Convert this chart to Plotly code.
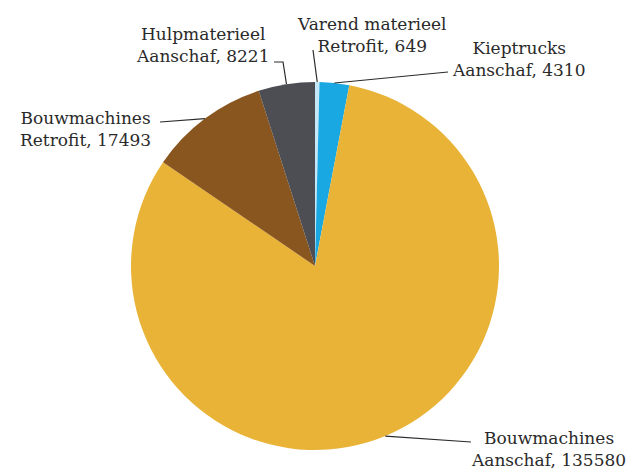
import math
import plotly.graph_objects as go

# slices, clockwise from 12 o'clock
labels = ['Varend materieel<br>Retrofit', 'Kieptrucks<br>Aanschaf', 'Bouwmachines<br>Aanschaf',
          'Bouwmachines<br>Retrofit', 'Hulpmaterieel<br>Aanschaf']
values = [649, 4310, 135580, 17493, 8221]
colors = ['#c4e8f8', '#1aa8e2', '#e9b337', '#8a561f', '#4c4e54']

W, H = 635, 470
OFF = 8                     # page body margin pushes the plot 8px right/down
CX, CY, R = 315, 266, 184   # pie centre / radius in pixels

# label placement (pixels): text centre and leader elbow points
label_pos = [
    dict(tx=372, ty=35, elbow=[(313, 50)]),
    dict(tx=519, ty=59, elbow=[(448, 72)]),
    dict(tx=548, ty=449, elbow=[(471, 442)]),
    dict(tx=85, ty=129, elbow=[(160, 122)]),
    dict(tx=202, ty=45, elbow=[(283, 62), (274, 62)]),
]


def px(x, y):
    return (x - OFF) / W, 1 - (y - OFF) / H


x0, y1 = px(CX - R, CY - R)
x1, y0 = px(CX + R, CY + R)

fig = go.Figure(go.Pie(
    labels=labels,
    values=values,
    sort=False,
    direction='clockwise',
    rotation=0,
    marker=dict(colors=colors, line=dict(color='white', width=0)),
    textinfo='none',
    hoverinfo='label+value',
    domain=dict(x=[x0, x1], y=[y0, y1]),
))

total = sum(values)
cum = 0
for lab, val, pos in zip(labels, values, label_pos):
    mid = (cum + val / 2) / total * 2 * math.pi
    cum += val
    rx, ry = CX + R * math.sin(mid), CY - R * math.cos(mid)
    pts = [(rx, ry)] + pos['elbow']
    path = 'M ' + ' L '.join('{:.4f},{:.4f}'.format(*px(x, y)) for x, y in pts)
    fig.add_shape(type='path', xref='paper', yref='paper', path=path,
                  line=dict(color='#2b2b2b', width=1.2))
    ax, ay = px(pos['tx'], pos['ty'])
    fig.add_annotation(x=ax, y=ay, xref='paper', yref='paper', showarrow=False,
                       xanchor='center', yanchor='middle',
                       text='{}, {}'.format(lab, val), align='center',
                       font=dict(family='DejaVu Serif', size=17, color='#2a2a2a'))

fig.update_layout(
    width=W, height=H,
    margin=dict(l=0, r=0, t=0, b=0),
    showlegend=False,
    paper_bgcolor='white',
    plot_bgcolor='white',
)

fig.write_html('out.html')
